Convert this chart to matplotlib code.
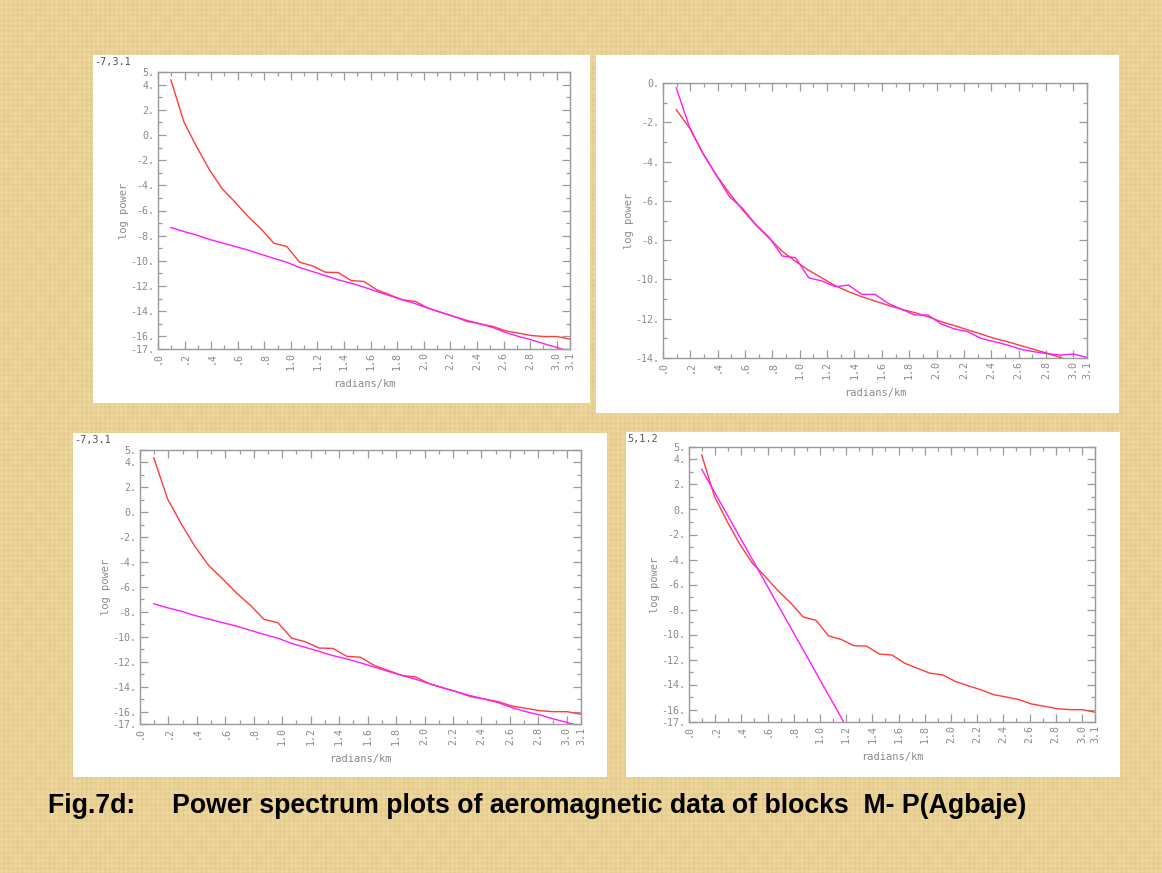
import numpy as np
import matplotlib
matplotlib.use("Agg")
import matplotlib.pyplot as plt
from matplotlib.patches import Rectangle
from matplotlib.ticker import FixedLocator

# ---------------------------------------------------------------- data
# wavenumber of each spectral estimate (radians/km)
wavenumber = [0.097, 0.194, 0.291, 0.388, 0.484, 0.581, 0.678, 0.775,
              0.872, 0.969, 1.066, 1.163, 1.259, 1.356, 1.453, 1.550,
              1.647, 1.744, 1.841, 1.938, 2.034, 2.131, 2.228, 2.325,
              2.422, 2.519, 2.616, 2.713, 2.809, 2.906, 3.003, 3.100]

# observed log power spectrum (blocks M, O, P)
observed_power = [4.37, 1.06, -0.95, -2.78, -4.29, -5.35, -6.48, -7.46,
                  -8.60, -8.86, -10.11, -10.40, -10.90, -10.93, -11.56, -11.64,
                  -12.30, -12.70, -13.10, -13.23, -13.76, -14.10, -14.42, -14.81,
                  -15.00, -15.21, -15.56, -15.74, -15.93, -16.01, -16.01, -16.22]

# shallow-source fit (blocks M and O)
shallow_fit = [-7.35, -7.67, -7.95, -8.30, -8.57, -8.86, -9.14, -9.48,
               -9.80, -10.11, -10.53, -10.85, -11.17, -11.51, -11.77, -12.09,
               -12.43, -12.77, -13.10, -13.41, -13.76, -14.10, -14.42, -14.73,
               -15.00, -15.29, -15.69, -16.01, -16.27, -16.59, -16.88, -17.20]

# block N: observed spectrum and model curve
observed_power_n = [-0.25, -2.25, -3.57, -4.67, -5.77, -6.38, -7.20, -7.85,
                    -8.81, -8.89, -9.92, -10.08, -10.37, -10.29, -10.76, -10.76,
                    -11.22, -11.52, -11.81, -11.81, -12.27, -12.52, -12.66, -13.00,
                    -13.17, -13.34, -13.56, -13.68, -13.78, -13.85, -13.80, -13.97]
model_power_n = [-1.36, -2.29, -3.57, -4.67, -5.60, -6.45, -7.22, -7.89,
                 -8.57, -9.08, -9.54, -9.93, -10.32, -10.62, -10.88, -11.10,
                 -11.32, -11.52, -11.69, -11.90, -12.15, -12.35, -12.57, -12.78,
                 -13.00, -13.17, -13.37, -13.56, -13.76, -13.98, -14.20]

# block P: deep-source straight-line fit (end points)
deep_fit_k = [0.097, 1.259]
deep_fit_power = [3.22, -18.45]

# tick labels
x_tick_values = [0.0, 0.2, 0.4, 0.6, 0.8, 1.0, 1.2, 1.4, 1.6, 1.8, 2.0,
                 2.2, 2.4, 2.6, 2.8, 3.0, 3.1]
x_tick_labels = [".0", ".2", ".4", ".6", ".8", "1.0", "1.2", "1.4", "1.6",
                 "1.8", "2.0", "2.2", "2.4", "2.6", "2.8", "3.0", "3.1"]
y_ticks_wide = [5, 4, 2, 0, -2, -4, -6, -8, -10, -12, -14, -16, -17]
y_ticks_n = [0, -2, -4, -6, -8, -10, -12, -14]

TITLE = "Fig.7d:     Power spectrum plots of aeromagnetic data of blocks  M- P(Agbaje)"

# ---------------------------------------------------------------- style
W, H = 1162, 873
RED = "#ff3b3b"
MAGENTA = "#ff1aff"
AXIS_GRAY = "#9a9a9a"
TEXT_GRAY = "#8a8a8a"
MONO = "DejaVu Sans Mono"
TICK_FS = 7.2
LABEL_FS = 7.5

fig = plt.figure(figsize=(W / 100, H / 100), dpi=100)

# woven tan backdrop
xx, yy = np.meshgrid(np.arange(W), np.arange(H))
weave = (0.55 * np.sin(2 * np.pi * xx / 4.6) + 0.45 * np.sin(2 * np.pi * yy / 5.3)
         + 0.35 * np.sin(2 * np.pi * xx / 23.0) * np.sin(2 * np.pi * yy / 31.0))
base = np.array([234, 209, 150], dtype=float)
tex = base[None, None, :] + 7.0 * weave[..., None] * np.array([1.0, 1.0, 1.2])
tex = np.clip(tex, 0, 255) / 255.0
fig.figimage(tex, xo=0, yo=0, zorder=-2)


def fig_rect(l, t, r, b):
    return [l / W, 1 - b / H, (r - l) / W, (b - t) / H]


def white_box(l, t, r, b, corner=None):
    fig.add_artist(Rectangle((l / W, 1 - b / H), (r - l) / W, (b - t) / H,
                             transform=fig.transFigure, facecolor="white",
                             edgecolor="none", zorder=-1))
    if corner:
        fig.text((l + 1) / W, 1 - (t + 2) / H, corner, ha="left", va="top",
                 family=MONO, fontsize=7.4, color="#555555")


def spectrum_axes(rect_px, ymin, ymax, yticks):
    l, t, r, b = rect_px
    ax = fig.add_axes(fig_rect(l, t, r, b))
    ax.set_facecolor("white")
    ax.set_xlim(0, 3.1)
    ax.set_ylim(ymin, ymax)
    for s in ax.spines.values():
        s.set_color(AXIS_GRAY)
        s.set_linewidth(1.0)
    ax.xaxis.set_major_locator(FixedLocator(x_tick_values))
    ax.set_xticklabels(x_tick_labels, rotation=90, family=MONO,
                       fontsize=TICK_FS, color=TEXT_GRAY)
    ax.xaxis.set_minor_locator(FixedLocator(np.arange(0.1, 3.05, 0.2)))
    ax.yaxis.set_major_locator(FixedLocator(yticks))
    ax.set_yticklabels([f"{v}." for v in yticks], family=MONO,
                       fontsize=TICK_FS, color=TEXT_GRAY)
    ax.yaxis.set_minor_locator(FixedLocator(
        [v for v in range(int(ymin), int(ymax) + 1) if v not in yticks]))
    ax.tick_params(which="both", direction="in", top=True, right=True,
                   color=AXIS_GRAY, width=0.9)
    ax.tick_params(which="major", length=5.6, pad=2.5)
    ax.tick_params(which="minor", length=2.8)
    ax.set_xlabel("radians/km", family=MONO, fontsize=LABEL_FS, color=TEXT_GRAY)
    ax.set_ylabel("log power", family=MONO, fontsize=LABEL_FS, color=TEXT_GRAY)
    ax.xaxis.set_label_coords(0.5, -30 / (b - t))
    ax.yaxis.set_label_coords(-29 / (r - l), 0.5)
    return ax


# block M
white_box(93, 55, 590, 403, "-7,3.1")
ax1 = spectrum_axes((158, 72, 570, 349), -17, 5, y_ticks_wide)
ax1.plot(wavenumber, observed_power, color=RED, lw=1.0)
ax1.plot(wavenumber, shallow_fit, color=MAGENTA, lw=1.0)

# block N
white_box(596, 55, 1119, 413)
ax2 = spectrum_axes((663, 83, 1087, 358), -14, 0, y_ticks_n)
ax2.plot(wavenumber[:len(model_power_n)], model_power_n, color=RED, lw=1.0)
ax2.plot(wavenumber, observed_power_n, color=MAGENTA, lw=1.0)

# block O
white_box(73, 433, 607, 777, "-7,3.1")
ax3 = spectrum_axes((140, 450, 581, 724), -17, 5, y_ticks_wide)
ax3.plot(wavenumber, observed_power, color=RED, lw=1.0)
ax3.plot(wavenumber, shallow_fit, color=MAGENTA, lw=1.0)

# block P
white_box(626, 432, 1120, 777, "5,1.2")
ax4 = spectrum_axes((689, 447, 1095, 722), -17, 5, y_ticks_wide)
ax4.plot(wavenumber, observed_power, color=RED, lw=1.0)
ax4.plot(deep_fit_k, deep_fit_power, color=MAGENTA, lw=1.0)

fig.text(48 / W, 1 - 813 / H, TITLE, ha="left", va="baseline",
         family="Liberation Sans", weight="bold", fontsize=19.2, color="black")

fig.savefig("out.png", dpi=100)
